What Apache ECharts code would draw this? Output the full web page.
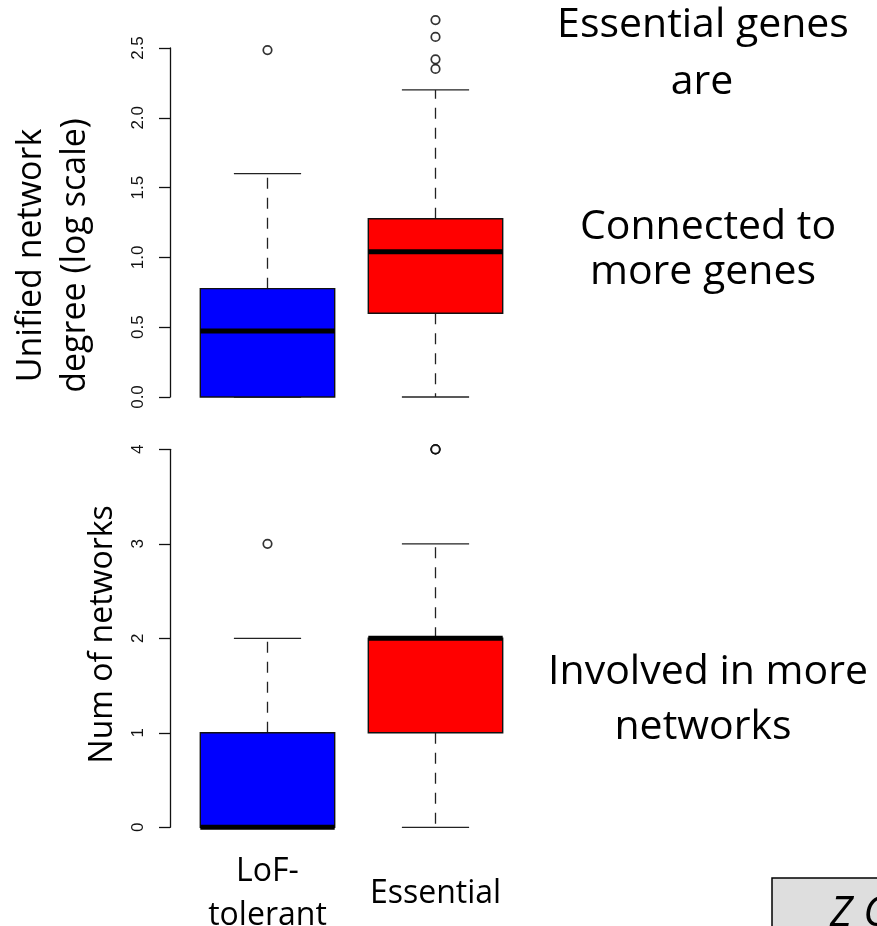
<!DOCTYPE html>
<html>
<head>
<meta charset="utf-8">
<script src="https://cdn.jsdelivr.net/npm/echarts@6/dist/echarts.min.js"></script>
<style>
  html, body { margin: 0; padding: 0; background: #ffffff; }
  #chart { width: 877px; height: 926px; }
</style>
</head>
<body>
<div id="chart"></div>
<script>
// Gene groups on the x axis
const categories = ['LoF-\ntolerant', 'Essential'];
const boxColors = ['#0000ff', '#ff0000'];

// Unified network degree (log scale): [min, Q1, median, Q3, max] per group
const degreeStats = [
  [0, 0, 0.473, 0.776, 1.60],
  [0, 0.60, 1.041, 1.277, 2.20]
];
const degreeOutliers = [[0, 2.485], [1, 2.70], [1, 2.579], [1, 2.419], [1, 2.35]];
const degreeTicks = ['0.0', '0.5', '1.0', '1.5', '2.0', '2.5'];

// Number of networks: [min, Q1, median, Q3, max] per group
const networkStats = [
  [0, 0, 0, 1, 2],
  [0, 1, 2, 2, 3]
];
const networkOutliers = [[0, 3], [1, 4], [1, 4], [1, 4]];
const networkTicks = ['0', '1', '2', '3', '4'];

const chart = echarts.init(document.getElementById('chart'), null, { renderer: 'canvas' });

function boxItem(params, api) {
  const i = api.value(0);
  const lo = api.value(1), q1 = api.value(2), med = api.value(3), q3 = api.value(4), hi = api.value(5);
  const w = api.size([1, 0])[0] * 0.8;
  const cx = api.coord([i, 0])[0];
  const y = v => api.coord([i, v])[1];
  const whisk = { stroke: '#222', lineWidth: 1.3, lineDash: [11, 9] };
  const cap = { stroke: '#222', lineWidth: 1.3 };
  return {
    type: 'group',
    children: [
      { type: 'line', shape: { x1: cx, y1: y(q3), x2: cx, y2: y(hi) }, style: whisk },
      { type: 'line', shape: { x1: cx, y1: y(q1), x2: cx, y2: y(lo) }, style: whisk },
      { type: 'line', shape: { x1: cx - w / 4, y1: y(hi), x2: cx + w / 4, y2: y(hi) }, style: cap },
      { type: 'line', shape: { x1: cx - w / 4, y1: y(lo), x2: cx + w / 4, y2: y(lo) }, style: cap },
      { type: 'rect', shape: { x: cx - w / 2, y: y(q3), width: w, height: y(q1) - y(q3) },
        style: { fill: boxColors[i], stroke: '#111', lineWidth: 1.4 } },
      { type: 'line', shape: { x1: cx - w / 2, y1: y(med), x2: cx + w / 2, y2: y(med) },
        style: { stroke: '#000', lineWidth: 5, lineCap: 'butt' } }
    ]
  };
}

const yLabelStyle = { rotate: 90, margin: 23, fontFamily: 'Liberation Sans', fontSize: 17, color: '#111' };
const axisLine = { show: true, lineStyle: { color: '#111', width: 1.3 } };
const axisTick = { show: true, length: 11, lineStyle: { color: '#111', width: 1.3 } };
const noteFont = '41px "Open Sans"';

chart.setOption({
  animation: false,
  backgroundColor: '#ffffff',
  grid: [
    { left: 183.5, width: 336, top: 48, height: 349, outerBoundsMode: 'none' },
    { left: 183.5, width: 336, top: 449.3, height: 378, outerBoundsMode: 'none' }
  ],
  xAxis: [
    { type: 'category', gridIndex: 0, data: categories, boundaryGap: true,
      axisLine: { show: false }, axisTick: { show: false }, axisLabel: { show: false }, splitLine: { show: false } },
    { type: 'category', gridIndex: 1, data: categories, boundaryGap: true,
      axisLine: { show: false }, axisTick: { show: false }, splitLine: { show: false },
      axisLabel: { margin: 67, verticalAlign: 'middle', fontFamily: 'Open Sans', fontSize: 32,
                   lineHeight: 44, color: '#000', interval: 0 } }
  ],
  yAxis: [
    { type: 'value', gridIndex: 0, min: 0, max: 2.5, interval: 0.5, offset: 13.5,
      name: 'Unified network\ndegree (log scale)', nameLocation: 'middle', nameRotate: 90, nameGap: 73,
      nameTextStyle: { fontFamily: 'Open Sans', fontSize: 34, lineHeight: 44, color: '#000', padding: [0, 66, 0, 0] },
      axisLine, axisTick, splitLine: { show: false },
      axisLabel: Object.assign({}, yLabelStyle, { formatter: (v, idx) => degreeTicks[idx] }) },
    { type: 'value', gridIndex: 1, min: 0, max: 4, interval: 1, offset: 13.5,
      name: 'Num of networks', nameLocation: 'middle', nameRotate: 90, nameGap: 51,
      nameTextStyle: { fontFamily: 'Open Sans', fontSize: 32, color: '#000', padding: [0, 0, 0, 8] },
      axisLine, axisTick, splitLine: { show: false },
      axisLabel: Object.assign({}, yLabelStyle, { formatter: (v, idx) => networkTicks[idx] }) }
  ],
  series: [
    { type: 'custom', xAxisIndex: 0, yAxisIndex: 0, clip: false, renderItem: boxItem,
      encode: { x: 0, y: [1, 2, 3, 4, 5] },
      data: degreeStats.map((s, i) => [i].concat(s)) },
    { type: 'custom', xAxisIndex: 1, yAxisIndex: 1, clip: false, renderItem: boxItem,
      encode: { x: 0, y: [1, 2, 3, 4, 5] },
      data: networkStats.map((s, i) => [i].concat(s)) },
    { type: 'scatter', xAxisIndex: 0, yAxisIndex: 0, clip: false, symbol: 'circle', symbolSize: 8.5,
      itemStyle: { color: '#ffffff', borderColor: '#000', borderWidth: 1.7 }, data: degreeOutliers },
    { type: 'scatter', xAxisIndex: 1, yAxisIndex: 1, clip: false, symbol: 'circle', symbolSize: 8.5,
      itemStyle: { color: '#ffffff', borderColor: '#000', borderWidth: 1.7 }, data: networkOutliers }
  ],
  graphic: [
    { type: 'text', x: 703, y: 25, style: { text: 'Essential genes', font: noteFont, fill: '#000', align: 'center', verticalAlign: 'middle' } },
    { type: 'text', x: 702, y: 82, style: { text: 'are', font: noteFont, fill: '#000', align: 'center', verticalAlign: 'middle' } },
    { type: 'text', x: 708, y: 227, style: { text: 'Connected to', font: noteFont, fill: '#000', align: 'center', verticalAlign: 'middle' } },
    { type: 'text', x: 703, y: 272, style: { text: 'more genes', font: noteFont, fill: '#000', align: 'center', verticalAlign: 'middle' } },
    { type: 'text', x: 708, y: 672, style: { text: 'Involved in more', font: noteFont, fill: '#000', align: 'center', verticalAlign: 'middle' } },
    { type: 'text', x: 703, y: 727, style: { text: 'networks', font: noteFont, fill: '#000', align: 'center', verticalAlign: 'middle' } },
    { type: 'rect', shape: { x: 772, y: 878, width: 140, height: 80 }, style: { fill: '#dedede', stroke: '#000', lineWidth: 1.5 } },
    { type: 'text', x: 830, y: 914, style: { text: 'Z C', font: 'italic 42px "Open Sans"', fill: '#000', align: 'left', verticalAlign: 'middle' } }
  ]
});
</script>
</body>
</html>
